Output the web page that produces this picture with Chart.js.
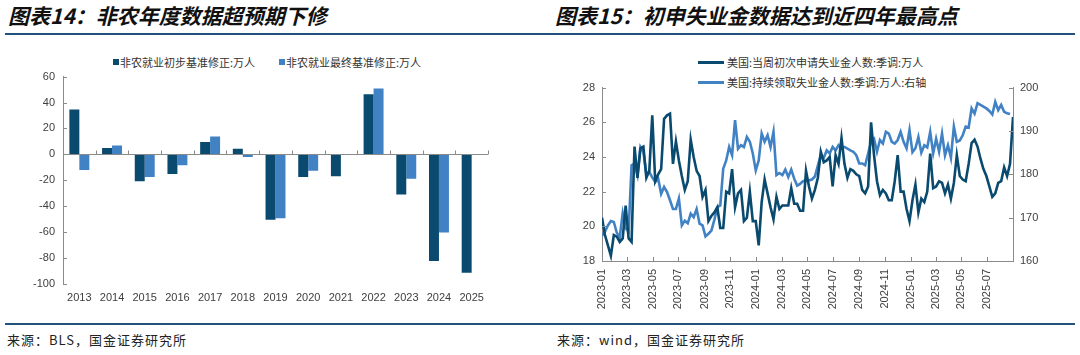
<!DOCTYPE html>
<html lang="zh-CN"><head><meta charset="utf-8">
<title>chart</title>
<script src="https://cdn.jsdelivr.net/npm/chart.js@4.4.1/dist/chart.umd.min.js"></script>
<style>
html,body{margin:0;padding:0;background:#fff;}
body{width:1080px;height:355px;overflow:hidden;position:relative;font-family:"Noto Sans CJK SC","Liberation Sans",sans-serif;}
.title{position:absolute;top:3px;font-size:21px;line-height:25px;font-weight:bold;font-style:italic;color:#111;white-space:nowrap;}
.rule{position:absolute;left:5px;width:1070px;height:2px;background:#22517c;}
.src{position:absolute;top:331px;font-size:13px;line-height:18px;letter-spacing:1px;color:#222;white-space:nowrap;}
.leg{position:absolute;font-size:11px;line-height:14px;color:#333;white-space:nowrap;display:flex;align-items:center;}
.sq{display:inline-block;width:6px;height:6px;margin-right:1px;}
.ln{display:inline-block;width:26px;height:3px;margin-right:3px;}
canvas{position:absolute;}
</style></head>
<body>
<div class="title" style="left:8px">图表14：非农年度数据超预期下修</div>
<div class="title" style="left:555px">图表15：初申失业金数据达到近四年最高点</div>
<div class="rule" style="top:33px"></div>
<div class="rule" style="top:323px"></div>
<div id="leg1a" class="leg" style="left:113px;top:55px"></div>
<div id="leg1b" class="leg" style="left:279px;top:55px"></div>
<div id="leg2a" class="leg" style="left:698px;top:55px"></div>
<div id="leg2b" class="leg" style="left:698px;top:75px"></div>
<canvas id="c1" width="500" height="252" style="left:0;top:62px"></canvas>
<canvas id="c2" width="540" height="241" style="left:540px;top:74px"></canvas>
<div class="src" style="left:7px">来源：BLS，国金证券研究所</div>
<div class="src" style="left:557px">来源：wind，国金证券研究所</div>
<script>
// ---------- Chart 14 data ----------
const years = ['2013','2014','2015','2016','2017','2018','2019','2020','2021','2022','2023','2024','2025'];
const prelimName = '非农就业初步基准修正:万人';
const finalName = '非农就业最终基准修正:万人';
const prelimRevision = [34.7, 4.9, -20.8, -15.2, 9.6, 4.3, -50.5, -17.4, -16.8, 46.3, -31.0, -82.3, -91.3];
const finalRevision  = [-12.0, 6.8, -17.5, -8.4, 13.7, -2.0, -49.2, -12.6, null, 50.8, -18.9, -60.2, null];
const barTicks = [60, 40, 20, 0, -20, -40, -60, -80, -100];

// ---------- Chart 15 data ----------
const claimsStart = '2023-01-07';
const initialName = '美国:当周初次申请失业金人数:季调:万人';
const continuingName = '美国:持续领取失业金人数:季调:万人:右轴';
const initialClaims = [
20.5,19.5,18.9,18.3,19.5,19.4,19.1,19.3,21.2,19.3,
19.1,24.6,22.8,24.5,24.6,22.8,23.2,26.4,22.6,23.0,
23.3,26.2,26.4,26.5,23.6,24.9,23.8,22.9,22.1,22.6,
25.0,24.0,23.2,22.9,21.7,22.1,20.3,20.6,20.8,21.1,
19.9,19.9,22.0,21.9,23.3,21.1,21.9,22.1,20.3,20.5,
22.0,20.3,20.3,18.9,21.4,22.7,21.9,21.1,20.4,21.7,
21.0,21.2,21.2,21.2,22.2,21.3,21.3,20.9,20.9,23.2,
22.3,21.6,22.1,22.8,24.3,23.7,23.8,24.0,22.3,24.1,
23.6,25.1,23.6,22.8,23.3,23.2,23.0,22.9,22.1,21.9,
22.3,26.0,24.1,22.6,21.8,22.1,21.9,21.5,21.5,22.6,
24.1,22.0,22.0,21.0,20.3,21.5,22.4,20.8,21.6,21.4,
22.0,24.2,22.2,22.3,22.6,22.5,21.9,22.4,21.6,22.5,
24.1,22.9,22.7,22.6,23.6,24.8,25.0,24.6,23.9,23.3,
22.9,22.3,21.7,21.9,22.5,22.6,23.4,22.9,23.6,26.3];
const continuingClaims = [
165.8,166.8,168.2,169.2,169.0,166.5,165.5,171.0,167.5,166.8,
182.1,182.5,179.8,186.3,185.2,180.1,180.5,179.3,178.2,179.0,
175.5,177.1,175.9,174.0,172.0,172.0,174.4,168.2,169.3,168.7,
170.9,170.1,172.0,168.6,168.2,165.7,166.3,167.0,169.5,172.4,
172.8,181.3,183.2,186.3,184.4,192.5,185.9,186.7,186.3,188.6,
187.5,184.8,180.9,183.2,189.4,187.5,189.0,186.3,189.8,179.8,
180.3,179.8,181.1,179.4,181.1,179.0,177.4,177.8,178.4,178.6,
178.6,178.8,179.5,182.0,184.5,183.8,185.5,184.8,186.3,185.5,
186.7,186.0,186.3,185.9,185.5,185.2,184.4,182.5,182.5,182.1,
184.8,187.5,188.2,185.2,187.9,187.1,189.8,189.4,187.5,187.1,
187.9,189.8,187.5,186.0,190.2,185.1,186.0,188.6,185.0,186.7,
186.2,189.8,184.8,188.2,185.2,189.4,184.4,186.7,183.8,191.0,
187.5,187.8,189.0,191.0,190.8,195.2,194.0,196.4,196.0,195.6,
195.2,194.6,193.8,196.7,194.8,196.0,194.4,194.1,193.9,null];
const monthTicks = ['2023-01','2023-03','2023-05','2023-07','2023-09','2023-11','2024-01','2024-03','2024-05','2024-07','2024-09','2024-11','2025-01','2025-03','2025-05','2025-07'];
const leftTicks = [18,20,22,24,26,28];
const rightTicks = [160,170,180,190,200];

// ---------- styles ----------
const DARK = '#0b4a6f';
const LIGHT = '#4182c4';
const AXIS = '#8a8a8a';
const TICKCOL = '#404040';
const TICKFONT = {family:'"Liberation Sans", Arial, sans-serif', size:11};

function addLegend(id, name, color, kind){
  const el = document.getElementById(id);
  const m = document.createElement('span');
  m.className = kind; m.style.background = color;
  el.appendChild(m);
  el.appendChild(document.createTextNode(name));
}
addLegend('leg1a', prelimName, DARK, 'sq');
addLegend('leg1b', finalName, LIGHT, 'sq');
addLegend('leg2a', initialName, DARK, 'ln');
addLegend('leg2b', continuingName, LIGHT, 'ln');

const DAY = 86400000;
function dayIndex(s){ return Math.round((Date.parse(s+'T00:00:00Z') - Date.parse(claimsStart+'T00:00:00Z'))/DAY); }

// inner tick marks drawn from the scales
const innerTicks = {
  id:'innerTicks',
  afterDraw(chart, args, opts){
    const ctx = chart.ctx, ca = chart.chartArea;
    ctx.save(); ctx.strokeStyle = AXIS; ctx.lineWidth = 1;
    (opts.yScales||[]).forEach(id=>{
      const s = chart.scales[id];
      const left = s.position === 'left';
      const x = left ? ca.left : ca.right;
      s.ticks.forEach(t=>{
        const y = Math.round(s.getPixelForValue(t.value)) + 0.5;
        ctx.beginPath(); ctx.moveTo(x, y); ctx.lineTo(x + (left?4:-4), y); ctx.stroke();
      });
    });
    if (opts.category){
      const s = chart.scales.x, ys = chart.scales.y;
      const y0 = Math.round(ys.getPixelForValue(0)) + 0.5;
      for (let i = 0; i <= s.getLabels().length; i++){
        const x = Math.round(s.getPixelForValue(i - 0.5)) + 0.5;
        ctx.beginPath(); ctx.moveTo(x, y0); ctx.lineTo(x, y0 - 4); ctx.stroke();
      }
    }
    if (opts.xTicks){
      const s = chart.scales.x;
      s.ticks.forEach(t=>{
        const x = Math.round(s.getPixelForValue(t.value)) + 0.5;
        ctx.beginPath(); ctx.moveTo(x, ca.bottom); ctx.lineTo(x, ca.bottom - 4); ctx.stroke();
      });
    }
    ctx.restore();
  }
};

// ---------- Chart 14 ----------
new Chart(document.getElementById('c1'), {
  type:'bar',
  data:{
    labels: years,
    datasets:[
      {label:prelimName, data:prelimRevision, backgroundColor:DARK, borderWidth:0, categoryPercentage:0.61, barPercentage:1.0},
      {label:finalName, data:finalRevision, backgroundColor:LIGHT, borderWidth:0, categoryPercentage:0.61, barPercentage:1.0}
    ]
  },
  options:{
    responsive:false, animation:false, devicePixelRatio:1,
    layout:{padding:{left:0, right:12, top:0, bottom:0}},
    plugins:{legend:{display:false}, tooltip:{enabled:false}, innerTicks:{yScales:['y'], category:true}},
    scales:{
      x:{
        grid:{display:false, drawTicks:false},
        border:{display:false},
        ticks:{padding:7, color:TICKCOL, font:TICKFONT, maxRotation:0, autoSkip:false},
        afterFit(s){ s.height = 30; }
      },
      y:{
        min:-100, max:60,
        afterBuildTicks(s){ s.ticks = barTicks.map(v=>({value:v})); },
        grid:{drawTicks:false, color:(c)=> (c.tick && c.tick.value === 0) ? AXIS : 'rgba(0,0,0,0)', lineWidth:1},
        border:{display:true, color:AXIS},
        ticks:{padding:8, color:TICKCOL, font:TICKFONT},
        afterFit(s){ s.width = 63; }
      }
    }
  },
  plugins:[innerTicks]
});

// ---------- Chart 15 ----------
const xDays = initialClaims.map((_, i) => i * 7);
new Chart(document.getElementById('c2'), {
  type:'line',
  data:{
    datasets:[
      {label:initialName, data:initialClaims.map((v,i)=>({x:xDays[i], y:v})), borderColor:DARK, borderWidth:2.6, pointRadius:0, tension:0, yAxisID:'y', order:1},
      {label:continuingName, data:continuingClaims.map((v,i)=>({x:xDays[i], y:v})), borderColor:LIGHT, borderWidth:2.6, pointRadius:0, tension:0, yAxisID:'y2', order:2}
    ]
  },
  options:{
    responsive:false, animation:false, devicePixelRatio:1,
    layout:{padding:{left:0, right:0, top:0, bottom:0}},
    plugins:{legend:{display:false}, tooltip:{enabled:false}, innerTicks:{yScales:['y','y2'], xTicks:true}},
    scales:{
      x:{
        type:'linear', min:0, max:xDays[xDays.length-1],
        afterBuildTicks(s){ s.ticks = monthTicks.map(m=>({value:dayIndex(m+'-07')})); },
        grid:{display:true, drawOnChartArea:false, drawTicks:false},
        border:{display:true, color:AXIS},
        ticks:{padding:8, color:TICKCOL, font:TICKFONT, minRotation:90, maxRotation:90, autoSkip:false,
               callback:(v, i)=> monthTicks[i]},
        afterFit(s){ s.height = 54; }
      },
      y:{
        position:'left', min:18, max:28,
        afterBuildTicks(s){ s.ticks = leftTicks.map(v=>({value:v})); },
        grid:{display:true, drawOnChartArea:false, drawTicks:false},
        border:{display:true, color:AXIS},
        ticks:{padding:7, color:TICKCOL, font:TICKFONT},
        afterFit(s){ s.width = 62; }
      },
      y2:{
        position:'right', min:160, max:200,
        afterBuildTicks(s){ s.ticks = rightTicks.map(v=>({value:v})); },
        grid:{display:true, drawOnChartArea:false, drawTicks:false},
        border:{display:true, color:AXIS},
        ticks:{padding:7, color:TICKCOL, font:TICKFONT},
        afterFit(s){ s.width = 67; }
      }
    }
  },
  plugins:[innerTicks]
});
</script>
</body></html>
